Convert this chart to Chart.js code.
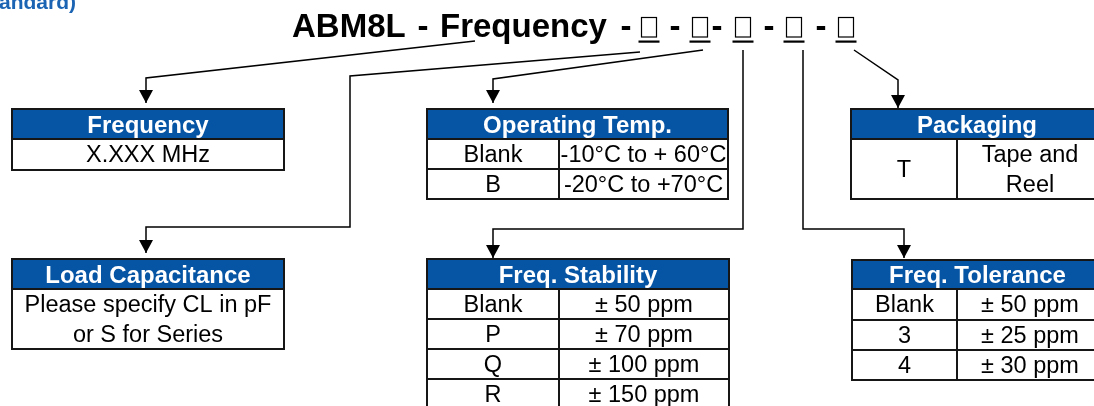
<!DOCTYPE html>
<html lang="en">
<head>
    <meta charset="UTF-8">
    <title>ABM8L Part Number Guide</title>
    <script src="https://cdn.jsdelivr.net/npm/chart.js"></script>
    <style>
        html, body {
            margin: 0;
            padding: 0;
            background: #ffffff;
            overflow: hidden;
        }
        canvas {
            display: block;
        }
    </style>
</head>
<body>
    <canvas id="guideChart" width="1094" height="406"></canvas>

    <script>
        // ---- text content ----
        const cornerLabel = '(Standard)';
        const titleWords = ['ABM8L', 'Frequency'];
        const tableTitles = ['Frequency', 'Operating Temp.', 'Packaging', 'Load Capacitance', 'Freq. Stability', 'Freq. Tolerance'];

        const frequencyValues = ['X.XXX MHz'];
        const tempCodes = ['Blank', 'B'];
        const tempRanges = ['-10°C to + 60°C', '-20°C to +70°C'];
        const packagingCodes = ['T'];
        const packagingValues = ['Tape and\nReel'];
        const loadValues = ['Please specify CL in pF\nor S for Series'];
        const stabilityCodes = ['Blank', 'P', 'Q', 'R'];
        const stabilityValues = ['± 50 ppm', '± 70 ppm', '± 100 ppm', '± 150 ppm'];
        const toleranceCodes = ['Blank', '3', '4'];
        const toleranceValues = ['± 50 ppm', '± 25 ppm', '± 30 ppm'];

        // ---- layout (diagram units = pixels of the scales below) ----
        const BLUE = '#0654a4';
        const FONT = '"Liberation Sans", Arial, sans-serif';

        const tables = [
            { title: tableTitles[0], x0: 12,  x1: 284,  div: null, top: 109, head: 30, rows: [31], cols: [frequencyValues] },
            { title: tableTitles[1], x0: 427, x1: 728,  div: 559,  top: 109, head: 30, rows: [30, 30], cols: [tempCodes, tempRanges] },
            { title: tableTitles[2], x0: 851, x1: 1103, div: 957,  top: 109, head: 30, rows: [60], cols: [packagingCodes, packagingValues] },
            { title: tableTitles[3], x0: 12,  x1: 284,  div: null, top: 259, head: 30, rows: [60], cols: [loadValues] },
            { title: tableTitles[4], x0: 427, x1: 729,  div: 559,  top: 259, head: 30, rows: [30, 30, 30, 30], cols: [stabilityCodes, stabilityValues] },
            { title: tableTitles[5], x0: 852, x1: 1103, div: 957,  top: 260, head: 29, rows: [31, 30, 30], cols: [toleranceCodes, toleranceValues] }
        ];

        // connector paths, last point is the arrow tip
        const connectors = [
            [[475, 41], [146, 78], [146, 103]],
            [[640, 52], [350, 76], [350, 227], [146, 227], [146, 253]],
            [[703, 50], [493, 79], [493, 103]],
            [[743, 50], [743, 229], [493, 229], [493, 258]],
            [[803, 50], [803, 229], [904, 229], [904, 258]],
            [[854, 50], [898, 80], [898, 108]]
        ];

        const dashX = [423, 626, 675, 717, 769, 821];
        const boxX = [649, 700, 743, 794, 846];

        const diagram = {
            id: 'diagram',
            beforeDatasetsDraw(chart) {
                const ctx = chart.ctx;
                const px = v => chart.scales.x.getPixelForValue(v);
                const py = v => chart.scales.y.getPixelForValue(v);
                ctx.save();

                // corner label, cut at the edge like the source
                ctx.fillStyle = '#1b63b3';
                ctx.font = 'bold 21px ' + FONT;
                ctx.textAlign = 'right';
                ctx.textBaseline = 'alphabetic';
                ctx.fillText(cornerLabel, px(76), py(9));

                // title
                ctx.fillStyle = '#000';
                ctx.font = 'bold 33px ' + FONT;
                ctx.textAlign = 'left';
                ctx.fillText(titleWords[0], px(292), py(37));
                ctx.fillText(titleWords[1], px(440), py(37));
                ctx.textAlign = 'center';
                dashX.forEach(x => ctx.fillText('-', px(x), py(37)));
                ctx.strokeStyle = '#000';
                ctx.lineWidth = 1.2;
                boxX.forEach(x => {
                    ctx.strokeRect(px(x - 7.5), py(17.5), px(x + 7.5) - px(x - 7.5), py(37) - py(17.5));
                    ctx.fillRect(px(x - 10.5), py(40.5), px(x + 10.5) - px(x - 10.5), 2.2);
                });

                // tables
                tables.forEach(t => {
                    const left = px(t.x0), right = px(t.x1);
                    const top = py(t.top), headBot = py(t.top + t.head);
                    let ys = [t.top + t.head];
                    t.rows.forEach(h => ys.push(ys[ys.length - 1] + h));
                    const bottom = py(ys[ys.length - 1]);

                    ctx.fillStyle = BLUE;
                    ctx.fillRect(left, top, right - left, headBot - top);
                    ctx.fillStyle = '#fff';
                    ctx.fillRect(left, headBot, right - left, bottom - headBot);

                    ctx.fillStyle = '#fff';
                    ctx.font = 'bold 24px ' + FONT;
                    ctx.textAlign = 'center';
                    ctx.fillText(t.title, (left + right) / 2, (top + headBot) / 2 + 8.5);

                    ctx.strokeStyle = '#161616';
                    ctx.lineWidth = 2;
                    ctx.beginPath();
                    ctx.rect(left, top, right - left, bottom - top);
                    ys.forEach((y, i) => {
                        if (i === ys.length - 1) return;
                        ctx.moveTo(left, py(y));
                        ctx.lineTo(right, py(y));
                    });
                    if (t.div !== null) {
                        ctx.moveTo(px(t.div), headBot);
                        ctx.lineTo(px(t.div), bottom);
                    }
                    ctx.stroke();

                    ctx.fillStyle = '#000';
                    ctx.font = '23.5px ' + FONT;
                    const colBounds = t.div === null ? [[t.x0, t.x1]] : [[t.x0, t.div], [t.div, t.x1]];
                    t.cols.forEach((col, ci) => {
                        const cx = (px(colBounds[ci][0]) + px(colBounds[ci][1])) / 2;
                        col.forEach((txt, ri) => {
                            const lines = txt.split('\n');
                            const r0 = py(ys[ri]), r1 = py(ys[ri + 1]);
                            const mid = (r0 + r1) / 2;
                            lines.forEach((ln, li) => {
                                const off = (li - (lines.length - 1) / 2) * 30;
                                ctx.fillText(ln, cx, mid + off + 7.5);
                            });
                        });
                    });
                });
                ctx.restore();
            },
            afterDatasetsDraw(chart) {
                const ctx = chart.ctx;
                ctx.save();
                ctx.fillStyle = '#000';
                chart.data.datasets.forEach((ds, i) => {
                    const pts = chart.getDatasetMeta(i).data;
                    const tip = pts[pts.length - 1];
                    ctx.beginPath();
                    ctx.moveTo(tip.x, tip.y);
                    ctx.lineTo(tip.x - 7, tip.y - 13);
                    ctx.lineTo(tip.x + 7, tip.y - 13);
                    ctx.closePath();
                    ctx.fill();
                });
                ctx.restore();
            }
        };

        new Chart(document.getElementById('guideChart'), {
            type: 'scatter',
            data: {
                datasets: connectors.map(path => ({
                    data: path.map(p => ({ x: p[0], y: p[1] })),
                    showLine: true,
                    borderColor: '#000',
                    borderWidth: 1.5,
                    pointRadius: 0,
                    tension: 0,
                    fill: false
                }))
            },
            options: {
                responsive: false,
                animation: false,
                devicePixelRatio: 1,
                layout: { padding: 0 },
                plugins: {
                    legend: { display: false },
                    tooltip: { enabled: false }
                },
                scales: {
                    x: { type: 'linear', min: 0, max: 1094, display: false },
                    y: { type: 'linear', min: 0, max: 406, reverse: true, display: false }
                }
            },
            plugins: [diagram]
        });
    </script>
</body>
</html>
